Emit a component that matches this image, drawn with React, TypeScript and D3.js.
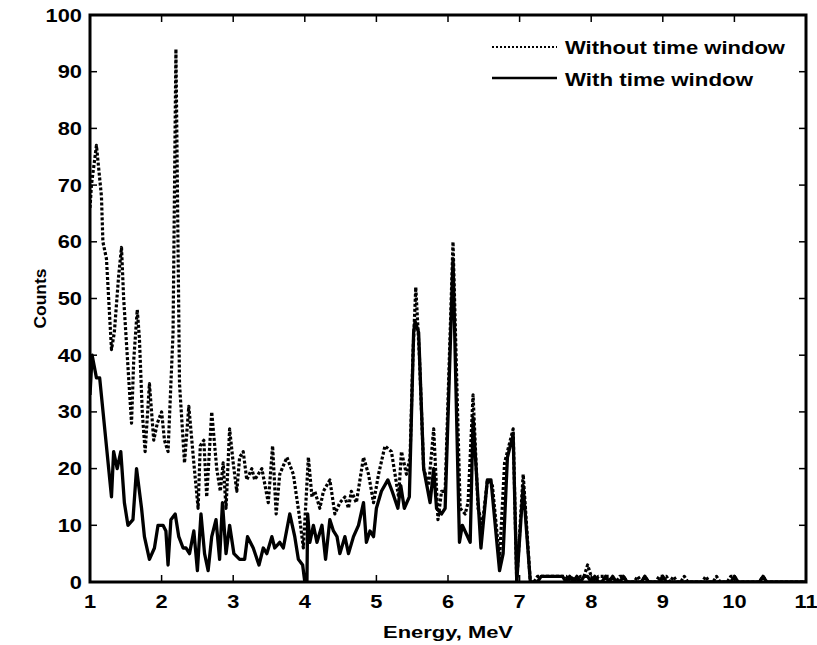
import React from 'react';
import * as d3 from 'd3';

// Without time window (dotted), main region
const dottedE = [1.0, 1.02, 1.07, 1.09, 1.16, 1.18, 1.23, 1.3, 1.34, 1.4, 1.44, 1.47, 1.52, 1.58, 1.61, 1.66, 1.69, 1.73, 1.77, 1.83, 1.89, 1.94, 2.0, 2.04, 2.09, 2.16, 2.2, 2.25, 2.32, 2.38, 2.45, 2.51, 2.54, 2.59, 2.63, 2.7, 2.77, 2.82, 2.86, 2.9, 2.95, 3.0, 3.05, 3.09, 3.14, 3.19, 3.26, 3.3, 3.35, 3.4, 3.49, 3.55, 3.6, 3.65, 3.75, 3.84, 3.92, 3.98, 4.05, 4.1, 4.14, 4.21, 4.26, 4.35, 4.42, 4.49, 4.56, 4.61, 4.65, 4.72, 4.82, 4.89, 4.96, 5.03, 5.12, 5.21, 5.26, 5.31, 5.35, 5.42, 5.47, 5.51, 5.55, 5.6, 5.66, 5.73, 5.8, 5.86, 5.91, 5.96, 6.07, 6.17, 6.24, 6.28, 6.35, 6.42, 6.48, 6.55, 6.62, 6.72, 6.79, 6.91, 6.96, 7.05, 7.15];
const dottedCounts = [66, 70, 75, 77, 68, 60, 57, 41, 44, 54, 59, 50, 40, 28, 39, 48, 43, 30, 23, 35, 25, 28, 30, 25, 23, 44, 94, 35, 21, 31, 21, 13, 24, 25, 15, 30, 20, 16, 21, 13, 27, 21, 16, 22, 23, 18, 20, 18, 19, 20, 14, 24, 12, 19, 22, 19, 12, 6, 22, 15, 16, 13, 16, 18, 12, 14, 15, 13, 16, 14, 22, 19, 14, 19, 24, 23, 19, 15, 23, 19, 22, 40, 52, 40, 20, 17, 27, 11, 16, 16, 60, 13, 12, 14, 33, 13, 10, 18, 17, 4, 21, 27, 0, 19, 0];

// With time window (solid), main region
const solidE = [1.0, 1.03, 1.09, 1.135, 1.3, 1.33, 1.38, 1.43, 1.48, 1.53, 1.6, 1.65, 1.72, 1.76, 1.83, 1.9, 1.95, 2.02, 2.06, 2.09, 2.13, 2.19, 2.24, 2.3, 2.34, 2.39, 2.45, 2.5, 2.55, 2.6, 2.65, 2.7, 2.76, 2.81, 2.85, 2.9, 2.95, 3.01, 3.09, 3.16, 3.2, 3.28, 3.36, 3.42, 3.47, 3.54, 3.58, 3.65, 3.7, 3.79, 3.86, 3.91, 3.97, 4.0, 4.03, 4.04, 4.07, 4.12, 4.17, 4.24, 4.29, 4.35, 4.4, 4.45, 4.49, 4.56, 4.61, 4.68, 4.75, 4.82, 4.86, 4.91, 4.96, 5.0, 5.07, 5.16, 5.22, 5.3, 5.34, 5.39, 5.46, 5.52, 5.54, 5.59, 5.66, 5.75, 5.8, 5.84, 5.91, 5.96, 6.07, 6.16, 6.2, 6.31, 6.35, 6.46, 6.55, 6.6, 6.72, 6.77, 6.83, 6.91, 6.96, 7.05, 7.15];
const solidCounts = [33, 40, 36, 36, 15, 23, 20, 23, 14, 10, 11, 20, 13, 8, 4, 6, 10, 10, 9, 3, 11, 12, 8, 6, 6, 5, 9, 2, 12, 5, 2, 8, 11, 4, 14, 5, 10, 5, 4, 4, 8, 6, 3, 6, 5, 8, 6, 7, 6, 12, 8, 4, 3, 0, 0, 12, 7, 10, 7, 10, 4, 11, 9, 8, 5, 8, 5, 8, 10, 14, 7, 9, 8, 13, 16, 18, 16, 13, 17, 13, 15, 44, 46, 44, 20, 14, 20, 13, 12, 13, 57, 7, 10, 7, 29, 6, 18, 18, 2, 5, 22, 26, 0, 17, 0];

// High-energy tail, 7.20 .. 11.00 MeV in 0.05 steps
const tailE = d3.range(77).map(i => +(7.2 + i * 0.05).toFixed(2));
const tailDotted = [0, 1, 1, 1, 1, 1, 1, 1, 1, 1, 0, 1, 0, 1, 1, 3, 1, 0, 1, 1, 1, 1, 0, 0, 1, 1, 0, 0, 0, 1, 0, 1, 0, 0, 0, 1, 1, 1, 0, 1, 0, 0, 1, 0, 0, 0, 0, 0, 1, 0, 0, 1, 0, 0, 0, 1, 1, 0, 0, 0, 0, 0, 0, 0, 1, 0, 0, 0, 0, 0, 0, 0, 0, 0, 0, 0, 0];
const tailSolid = [0, 0, 1, 1, 1, 1, 1, 1, 1, 0, 1, 0, 1, 0, 1, 1, 0, 1, 0, 0, 1, 0, 1, 0, 0, 1, 0, 0, 0, 0, 0, 1, 0, 0, 0, 0, 1, 0, 0, 0, 0, 0, 0, 0, 0, 0, 0, 0, 0, 0, 0, 0, 0, 0, 0, 0, 1, 0, 0, 0, 0, 0, 0, 0, 1, 0, 0, 0, 0, 0, 0, 0, 0, 0, 0, 0, 0];

const xTicks = [1, 2, 3, 4, 5, 6, 7, 8, 9, 10, 11];
const yTicks = [0, 10, 20, 30, 40, 50, 60, 70, 80, 90, 100];

const legendLabels = ['Without time window', 'With time window'];

const W = 817;
const H = 645;
const left = 90, right = 806, top = 15, bottom = 582;
const font = 'Arial, "Liberation Sans", sans-serif';

// the original text is a bit wide for its height, so stretch it horizontally
function Label({ x, y, anchor = 'middle', size = 18.5, sx = 1.18, children }: any) {
  return (
    <text transform={`translate(${x},${y}) scale(${sx},1)`} textAnchor={anchor} fontSize={size} fontWeight="bold">
      {children}
    </text>
  );
}

export default function App() {
  const x = d3.scaleLinear().domain([1, 11]).range([left, right]);
  const y = d3.scaleLinear().domain([0, 100]).range([bottom, top]);

  const dotted = dottedE.map((e, i) => [e, dottedCounts[i]]).concat(tailE.map((e, i) => [e, tailDotted[i]]));
  const solid = solidE.map((e, i) => [e, solidCounts[i]]).concat(tailE.map((e, i) => [e, tailSolid[i]]));

  const line = d3.line<number[]>().x(d => x(d[0])).y(d => y(d[1]));
  const tl = 7;

  return (
    <svg width={W} height={H} style={{ position: 'absolute', left: 0, top: 0, background: '#fff' }} fontFamily={font}>
      <rect x={0} y={0} width={W} height={H} fill="#fff" />
      <defs>
        <clipPath id="plot">
          <rect x={left} y={top - 2} width={right - left} height={bottom - top + 2} />
        </clipPath>
      </defs>
      <g clipPath="url(#plot)">
        <path d={line(dotted) || ''} fill="none" stroke="#000" strokeWidth={3.2} strokeDasharray="3 2" strokeLinejoin="round" />
        <path d={line(solid) || ''} fill="none" stroke="#000" strokeWidth={3.3} strokeLinejoin="round" />
      </g>

      {/* ticks */}
      {xTicks.map(t => (
        <g key={'xt' + t}>
          <line x1={x(t)} x2={x(t)} y1={bottom} y2={bottom - tl} stroke="#000" strokeWidth={1.5} />
          <line x1={x(t)} x2={x(t)} y1={top} y2={top + tl} stroke="#000" strokeWidth={1.5} />
          <Label x={x(t)} y={608}>{t}</Label>
        </g>
      ))}
      {yTicks.map(t => (
        <g key={'yt' + t}>
          <line x1={left} x2={left + tl} y1={y(t)} y2={y(t)} stroke="#000" strokeWidth={1.5} />
          <line x1={right} x2={right - tl} y1={y(t)} y2={y(t)} stroke="#000" strokeWidth={1.5} />
          <Label x={82} y={y(t) + 6.5} anchor="end">{t}</Label>
        </g>
      ))}

      {/* frame */}
      <rect x={left} y={top} width={right - left} height={bottom - top} fill="none" stroke="#000" strokeWidth={3} />

      <text x={448} y={638} textAnchor="middle" fontSize={17} fontWeight="bold" textLength={130} lengthAdjust="spacingAndGlyphs">Energy, MeV</text>
      <text transform={`translate(46,${(top + bottom) / 2}) rotate(-90)`} textAnchor="middle" fontSize={17} fontWeight="bold" textLength={60} lengthAdjust="spacingAndGlyphs">Counts</text>

      {/* legend */}
      <line x1={492} x2={557} y1={47} y2={47} stroke="#000" strokeWidth={2} strokeDasharray="2 2" />
      <text x={565} y={54} fontSize={19} fontWeight="bold" textLength={220} lengthAdjust="spacingAndGlyphs">{legendLabels[0]}</text>
      <line x1={492} x2={557} y1={78} y2={78} stroke="#000" strokeWidth={2.5} />
      <text x={565} y={86} fontSize={19} fontWeight="bold" textLength={188} lengthAdjust="spacingAndGlyphs">{legendLabels[1]}</text>
    </svg>
  );
}
